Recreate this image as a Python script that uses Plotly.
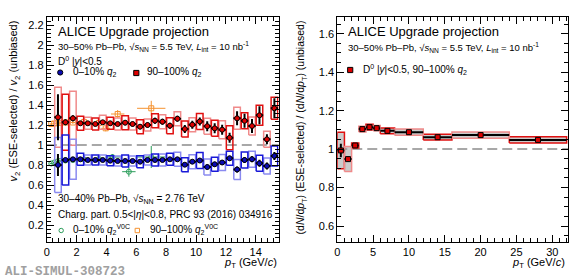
import plotly.graph_objects as go

# ---------------- Left panel: D0 v2 ratio (Upgrade projection) ----------------
pt_d0 = [0.75, 1.25, 1.75, 2.25, 2.75, 3.25, 3.75, 4.25, 4.75, 5.25,
         5.75, 6.25, 6.75, 7.25, 7.75, 8.25, 8.75, 9.25, 9.75, 10.25,
         10.75, 11.25, 11.75, 12.25, 12.75, 13.25, 13.75, 14.25, 14.75, 15.25]
pt_d0_halfbin = 0.25
box_halfwidth = 0.22

red_v = [1.277, 1.227, 1.267, 1.217, 1.217, 1.21, 1.227, 1.217, 1.21, 1.223,
         1.21, 1.183, 1.2, 1.243, 1.233, 1.193, 1.263, 1.16, 1.203, 1.235,
         1.188, 1.167, 1.153, 1.072, 1.267, 1.242, 1.19, 1.297, 1.057, 1.367]
red_stat = [0.23, 0.03, 0.03, 0.02, 0.02, 0.02, 0.02, 0.02, 0.02, 0.025,
            0.025, 0.025, 0.025, 0.03, 0.03, 0.03, 0.03, 0.04, 0.04, 0.04,
            0.05, 0.05, 0.05, 0.05, 0.07, 0.07, 0.07, 0.09, 0.05, 0.1]
red_syst = [0.3, 0.28, 0.27, 0.07, 0.06, 0.06, 0.07, 0.06, 0.06, 0.07,
            0.06, 0.07, 0.06, 0.07, 0.07, 0.08, 0.07, 0.08, 0.07, 0.08,
            0.08, 0.08, 0.09, 0.12, 0.11, 0.08, 0.09, 0.1, 0.08, 0.11]

blue_v = [0.80, 0.85, 0.857, 0.857, 0.85, 0.85, 0.85, 0.843, 0.84, 0.84,
          0.84, 0.833, 0.85, 0.85, 0.85, 0.857, 0.857, 0.803, 0.833, 0.845,
          0.78, 0.807, 0.825, 0.867, 0.755, 0.85, 0.858, 0.817, 0.79, 0.89]
blue_stat = [0.11, 0.015, 0.015, 0.012, 0.012, 0.012, 0.012, 0.012, 0.012, 0.015,
             0.015, 0.015, 0.015, 0.015, 0.015, 0.02, 0.02, 0.02, 0.02, 0.02,
             0.025, 0.025, 0.025, 0.025, 0.03, 0.03, 0.03, 0.035, 0.035, 0.04]
blue_syst = [0.275, 0.25, 0.2, 0.06, 0.05, 0.05, 0.05, 0.05, 0.05, 0.06,
             0.05, 0.06, 0.05, 0.06, 0.06, 0.06, 0.07, 0.07, 0.07, 0.08,
             0.08, 0.07, 0.08, 0.07, 0.1, 0.08, 0.08, 0.08, 0.08, 0.1]

# Run 1 charged particles (PRC 93 (2016) 034916)
green_x = [0.3, 0.5, 0.7, 0.9, 1.25, 1.75, 2.5, 3.5, 4.4, 5.5, 7.0]
green_xerr = [0.1, 0.1, 0.1, 0.1, 0.25, 0.25, 0.5, 0.5, 0.5, 0.45, 0.95]
green_v = [0.815, 0.825, 0.835, 0.84, 0.845, 0.85, 0.855, 0.86, 0.88, 0.733, 0.88]
green_err = [0.01, 0.01, 0.01, 0.01, 0.012, 0.015, 0.02, 0.025, 0.03, 0.05, 0.11]

orange_x = [0.3, 0.5, 0.7, 0.9, 1.25, 1.75, 2.5, 3.5, 3.95, 4.75, 7.0]
orange_xerr = [0.1, 0.1, 0.1, 0.1, 0.25, 0.25, 0.5, 0.5, 0.3, 0.45, 0.95]
orange_v = [1.21, 1.215, 1.22, 1.22, 1.225, 1.225, 1.23, 1.22, 1.167, 1.31, 1.367]
orange_err = [0.01, 0.01, 0.01, 0.01, 0.012, 0.015, 0.02, 0.025, 0.03, 0.04, 0.075]

# ---------------- Right panel: dN/dpT ratio ----------------
spec_lo = [0, 1, 2, 3, 4, 5, 6, 8, 12, 16, 24]
spec_hi = [1, 2, 3, 4, 5, 6, 8, 12, 16, 24, 32]
spec_pt = [0.5, 1.5, 2.5, 3.5, 4.5, 5.5, 7, 10, 14, 20, 28]
spec_v = [0.993, 0.948, 1.019, 1.104, 1.114, 1.109, 1.095, 1.088, 1.062, 1.073, 1.048]
spec_stat = [0.035, 0.012, 0.008, 0.006, 0.006, 0.006, 0.005, 0.005, 0.005, 0.006, 0.008]
spec_syst = [0.095, 0.065, 0.013, 0.015, 0.015, 0.014, 0.015, 0.016, 0.015, 0.016, 0.016]

FONT = "Liberation Sans"
W, H = 581, 279


def px(x):
    return x / W


def py(y):
    return 1 - y / H


def box_traces(xc, v, hw, hh, colors, xa, ya, fill=None):
    traces = []
    for k, col in enumerate(colors):
        xs, ys = [], []
        for i in range(len(xc)):
            if i % len(colors) != k:
                continue
            h = hw[i] if isinstance(hw, list) else hw
            if isinstance(h, tuple):
                x0, x1 = h
            else:
                x0, x1 = xc[i] - h, xc[i] + h
            xs += [x0, x1, x1, x0, x0, None]
            ys += [v[i] - hh[i], v[i] - hh[i], v[i] + hh[i], v[i] + hh[i], v[i] - hh[i], None]
        tr = go.Scatter(x=xs, y=ys, mode="lines", line=dict(color=col, width=1.5),
                        xaxis=xa, yaxis=ya, hoverinfo="skip", showlegend=False)
        if fill:
            tr.update(fill="toself", fillcolor=fill)
        traces.append(tr)
    return traces


fig = go.Figure()

# Run 1 data
fig.add_trace(go.Scatter(x=green_x, y=green_v, mode="markers",
                         marker=dict(symbol="circle-open", size=5, color="#2a9d5a", line=dict(width=1)),
                         error_x=dict(type="data", array=green_xerr, color="#2a9d5a", thickness=1, width=0),
                         error_y=dict(type="data", array=green_err, color="#2a9d5a", thickness=1, width=0),
                         xaxis="x", yaxis="y", showlegend=False))
fig.add_trace(go.Scatter(x=orange_x, y=orange_v, mode="markers",
                         marker=dict(symbol="square-open", size=5, color="#f5922f", line=dict(width=1)),
                         error_x=dict(type="data", array=orange_xerr, color="#f5922f", thickness=1, width=0),
                         error_y=dict(type="data", array=orange_err, color="#f5922f", thickness=1, width=0),
                         xaxis="x", yaxis="y", showlegend=False))

# Systematic boxes
for t in box_traces(pt_d0, red_v, box_halfwidth, red_syst, ["#f08a8a", "#e01010"], "x", "y"):
    fig.add_trace(t)
for t in box_traces(pt_d0, blue_v, box_halfwidth, blue_syst, ["#8a8af0", "#1818d8"], "x", "y"):
    fig.add_trace(t)

# D0 points
for vals, st, col in [(red_v, red_stat, "#dd0000"), (blue_v, blue_stat, "#0a0ab4")]:
    fig.add_trace(go.Scatter(x=pt_d0, y=vals, mode="markers",
                             marker=dict(symbol="circle", size=5, color=col, line=dict(color="black", width=1)),
                             error_x=dict(type="constant", value=pt_d0_halfbin, color="black", thickness=2, width=0),
                             error_y=dict(type="data", array=st, color="black", thickness=2, width=0),
                             xaxis="x", yaxis="y", showlegend=False))

# Right panel
spec_edges = [(lo, hi) for lo, hi in zip(spec_lo, spec_hi)]
for t in box_traces(spec_pt, spec_v, spec_edges, spec_syst, ["#e01010", "#f08a8a"], "x2", "y2",
                    fill="rgba(160,160,160,0.55)"):
    fig.add_trace(t)
fig.add_trace(go.Scatter(x=spec_pt, y=spec_v, mode="markers",
                         marker=dict(symbol="square", size=5, color="#dd0000", line=dict(color="black", width=1)),
                         error_x=dict(type="data", symmetric=False,
                                      array=[h - c for h, c in zip(spec_hi, spec_pt)],
                                      arrayminus=[c - l for l, c in zip(spec_lo, spec_pt)],
                                      color="black", thickness=2, width=0),
                         error_y=dict(type="data", array=spec_stat, color="black", thickness=2, width=0),
                         xaxis="x2", yaxis="y2", showlegend=False))

axis_common = dict(showline=True, linecolor="black", linewidth=1, mirror="allticks",
                   ticks="inside", ticklen=7, tickcolor="black", tickwidth=1,
                   showgrid=False, zeroline=False,
                   tickfont=dict(family=FONT, size=11, color="black"))

ydom = [py(242), py(17)]
fig.update_layout(
    width=W, height=H, margin=dict(l=0, r=0, t=0, b=0),
    paper_bgcolor="white", plot_bgcolor="white",
    xaxis=dict(domain=[px(44), px(277)], range=[0, 15.53], anchor="y",
               tickmode="array", tickvals=[0, 2, 4, 6, 8, 10, 12, 14],
               ticktext=["0", "2", "4", "6", "8", "10", "12", "14"],
               minor=dict(tickmode="linear", tick0=0, dtick=0.4, ticklen=4, ticks="inside", tickcolor="black"),
               ticklabelstandoff=0, **axis_common),
    yaxis=dict(domain=ydom, range=[0.03, 2.28], anchor="x",
               tickmode="array", tickvals=[0.2, 0.4, 0.6, 0.8, 1, 1.2, 1.4, 1.6, 1.8, 2, 2.2],
               ticktext=["0.2", "0.4", "0.6", "0.8", "1", "1.2", "1.4", "1.6", "1.8", "2", "2.2"],
               minor=dict(tickmode="linear", tick0=0, dtick=0.04, ticklen=4, ticks="inside", tickcolor="black"),
               ticklabelstandoff=0, **axis_common),
    xaxis2=dict(domain=[px(336), px(568)], range=[0, 32.2], anchor="y2",
                tickmode="array", tickvals=[0, 5, 10, 15, 20, 25, 30],
                ticktext=["0", "5", "10", "15", "20", "25", "30"],
                minor=dict(tickmode="linear", tick0=0, dtick=1, ticklen=4, ticks="inside", tickcolor="black"),
                ticklabelstandoff=0, **axis_common),
    yaxis2=dict(domain=ydom, range=[0.517, 1.687], anchor="x2",
                tickmode="array", tickvals=[0.6, 0.8, 1, 1.2, 1.4, 1.6],
                ticktext=["0.6", "0.8", "1", "1.2", "1.4", "1.6"],
                minor=dict(tickmode="linear", tick0=0, dtick=0.05, ticklen=4, ticks="inside", tickcolor="black"),
                ticklabelstandoff=0, **axis_common),
)

# dashed unity lines
for xr, yr in [("x domain", "y"), ("x2 domain", "y2")]:
    fig.add_shape(type="line", xref=xr, yref=yr, x0=0, x1=1, y0=1, y1=1,
                  line=dict(color="#8c8c8c", width=1.5, dash="10px,5px"), layer="below")


def text(x, y, s, size=10, anchor="left", color="black", family=FONT, angle=0, yanchor="middle"):
    fig.add_annotation(x=px(x), y=py(y), xref="paper", yref="paper", text=s, showarrow=False,
                       xanchor=anchor, yanchor=yanchor, textangle=angle,
                       font=dict(family=family, size=size, color=color))


sqrt55 = "30–50% Pb–Pb, √<i>s</i><sub>NN</sub> = 5.5 TeV, <i>L</i><sub>int</sub> = 10 nb<sup>-1</sup>"
q2 = "<i>q</i><sub>2</sub>"
q2v0c = "<i>q</i><sub>2</sub><sup>V0C</sup>"

# Left panel texts
text(53, 31, "ALICE Upgrade projection", size=13)
text(53, 46, sqrt55, size=9.5)
text(53, 61, "D<sup>0</sup> |<i>y</i>|&lt;0.5", size=10)
text(68, 72, "0–10% " + q2, size=10)
text(143, 72, "90–100% " + q2, size=10)
text(53, 199, "30–40% Pb–Pb, √<i>s</i><sub>NN</sub> = 2.76 TeV", size=10)
text(53, 214, "Charg. part. 0.5&lt;|<i>η</i>|&lt;0.8, PRC 93 (2016) 034916", size=10)
text(68, 229, "0–10% " + q2v0c, size=10)
text(146, 229, "90–100% " + q2v0c, size=10)
text(277, 263, "<i>p</i><sub>T</sub> (GeV/<i>c</i>)", size=11, anchor="right")
text(12, 18, "<i>v</i><sub>2</sub> (ESE-selected) / <i>v</i><sub>2</sub> (unbiased)", size=11,
     anchor="center", angle=-90, yanchor="top")
text(0, 272, "<b>ALI-SIMUL-308723</b>", size=12.5, color="#a0a0a0", family="Liberation Mono")

# Right panel texts
text(345, 32, "ALICE Upgrade projection", size=13)
text(345, 47, sqrt55, size=9.5)
text(360, 70, "D<sup>0</sup> |<i>y</i>|&lt;0.5, 90–100% " + q2, size=10)
text(567, 263, "<i>p</i><sub>T</sub> (GeV/<i>c</i>)", size=11, anchor="right")
text(300, 18, "(d<i>N</i>/d<i>p</i><sub>T</sub>) (ESE-selected) / (d<i>N</i>/d<i>p</i><sub>T</sub>) (unbiased)",
     size=10.5, anchor="center", angle=-90, yanchor="top")

# Legend marker glyphs


def circ(x, y, r, fill, line, lw=1):
    fig.add_shape(type="circle", xref="paper", yref="paper", x0=px(x - r), x1=px(x + r),
                  y0=py(y + r), y1=py(y - r), fillcolor=fill, line=dict(color=line, width=lw))


def sq(x, y, r, fill, line, lw=1):
    fig.add_shape(type="rect", xref="paper", yref="paper", x0=px(x - r), x1=px(x + r),
                  y0=py(y + r), y1=py(y - r), fillcolor=fill, line=dict(color=line, width=lw))


circ(57.5, 72.5, 2.6, "#0a0ab4", "black")
sq(134, 73, 2.6, "#dd0000", "black")
circ(58.5, 230.5, 2.2, "white", "#2a9d5a")
sq(135, 230.5, 2.2, "white", "#f5922f")
sq(349, 70, 2.6, "#dd0000", "black")

fig.write_html("out.html", config={"displayModeBar": False},
               post_script="document.body.style.margin='0';document.body.style.overflow='hidden';")
